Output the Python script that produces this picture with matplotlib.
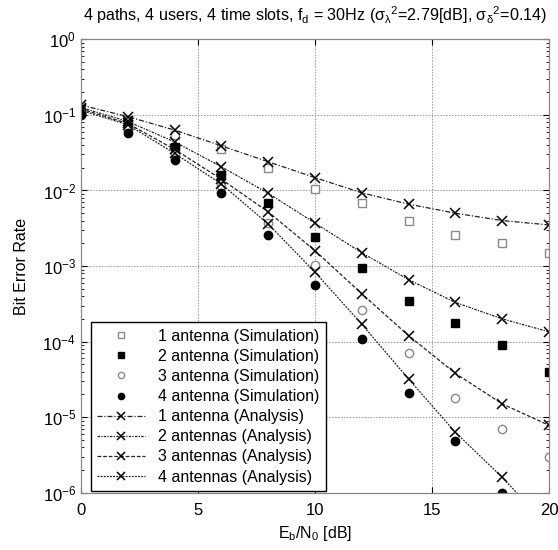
import numpy as np
import matplotlib
matplotlib.use("Agg")
import matplotlib.pyplot as plt

plt.rcParams["font.family"] = ["Liberation Sans", "DejaVu Sans"]
plt.rcParams["mathtext.default"] = "regular"

## DATA ##

snr = [0, 2, 4, 6, 8, 10, 12, 14, 16, 18, 20]

# simulation points
sim1 = [0.115, 0.086, 0.054, 0.035, 0.020, 0.0105, 0.0069, 0.0040, 0.0026, 0.0020, 0.0015]
sim2 = [0.110, 0.070, 0.038, 0.016, 0.0068, 0.0024, 9.3e-4, 3.5e-4, 1.75e-4, 8.9e-5, 4.0e-5]
sim3 = [0.105, 0.065, 0.030, 0.0115, 0.0037, 1.02e-3, 2.6e-4, 7.1e-5, 1.8e-5, 6.9e-6, 3.0e-6]
sim4 = [0.100, 0.058, 0.025, 0.0092, 0.0026, 5.6e-4, 1.1e-4, 2.1e-5, 4.9e-6, 1.0e-6, 2.0e-7]

# analysis curves
ana1 = [0.135, 0.095, 0.063, 0.039, 0.024, 0.0148, 0.0093, 0.0066, 0.0050, 0.0040, 0.0035]
ana2 = [0.125, 0.082, 0.044, 0.0206, 0.0092, 0.0037, 0.0015, 6.6e-4, 3.3e-4, 2.0e-4, 1.35e-4]
ana3 = [0.120, 0.077, 0.035, 0.0141, 0.0052, 0.0016, 4.3e-4, 1.2e-4, 3.8e-5, 1.5e-5, 7.8e-6]
ana4 = [0.115, 0.074, 0.031, 0.0122, 0.0036, 8.3e-4, 1.7e-4, 3.2e-5, 6.3e-6, 1.6e-6, 3.5e-7]

simLabels = ["1 antenna (Simulation)", "2 antenna (Simulation)",
             "3 antenna (Simulation)", "4 antenna (Simulation)"]
anaLabels = ["1 antenna (Analysis)", "2 antennas (Analysis)",
             "3 antennas (Analysis)", "4 antennas (Analysis)"]

## PLOT ##

fig = plt.figure(figsize=(5.58, 5.5), dpi=100)
ax = fig.add_axes([0.145, 0.104, 0.839, 0.8245])

gray = "#8a8a8a"
ax.plot(snr, sim1, ls="none", marker="s", ms=6, mfc="white", mec=gray, mew=1.0, label=simLabels[0])
ax.plot(snr, sim2, ls="none", marker="s", ms=6, mfc="black", mec="black", label=simLabels[1])
ax.plot(snr, sim3, ls="none", marker="o", ms=6, mfc="white", mec=gray, mew=1.0, label=simLabels[2])
ax.plot(snr, sim4, ls="none", marker="o", ms=6, mfc="black", mec="black", label=simLabels[3])

styles = [(0, (4, 1.5, 1, 1.5)), (0, (2, 1, 1, 1)), (0, (3, 1.5)), (0, (1.5, 1))]
for vals, lab, st in zip([ana1, ana2, ana3, ana4], anaLabels, styles):
    ax.plot(snr, vals, color="#222222", lw=0.9, ls=st, marker="x", ms=7,
            mew=1.1, mec="black", label=lab)

ax.set_yscale("log")
ax.set_xlim(0, 20)
ax.set_ylim(1e-6, 1)
ax.set_xticks([0, 5, 10, 15, 20])
ax.set_yticks([1e0, 1e-1, 1e-2, 1e-3, 1e-4, 1e-5, 1e-6])
ax.tick_params(which="both", direction="in", top=True, right=True, labelsize=12)
ax.tick_params(which="major", length=4)
ax.tick_params(which="minor", length=2)
ax.tick_params(axis="x", pad=7)
ax.grid(True, which="major", ls=(0, (1.5, 1.5)), color="#999999", lw=0.7)
for s in ax.spines.values():
    s.set_color("#888888")
    s.set_linewidth(0.9)

ax.set_xlabel(r"E$_b$/N$_0$ [dB]", fontsize=11.5, labelpad=5)
ax.set_ylabel("Bit Error Rate", fontsize=11.5, labelpad=10)
ax.set_title(r"4 paths, 4 users, 4 time slots, f$_d$ = 30Hz ($\sigma_{\lambda}{}^{2}$=2.79[dB], $\sigma_{\delta}{}^{2}$=0.14)",
             fontsize=11.6, pad=13, x=0.5)

leg = ax.legend(loc="lower left", bbox_to_anchor=(0.021, 0.004), borderaxespad=0,
                fontsize=11.5, markerscale=0.75,
                handlelength=3.0, labelspacing=0.32, borderpad=0.4,
                handletextpad=0.8, fancybox=False, framealpha=1, edgecolor="black")
leg.get_frame().set_linewidth(1.0)

fig.savefig("out.png", dpi=100)
